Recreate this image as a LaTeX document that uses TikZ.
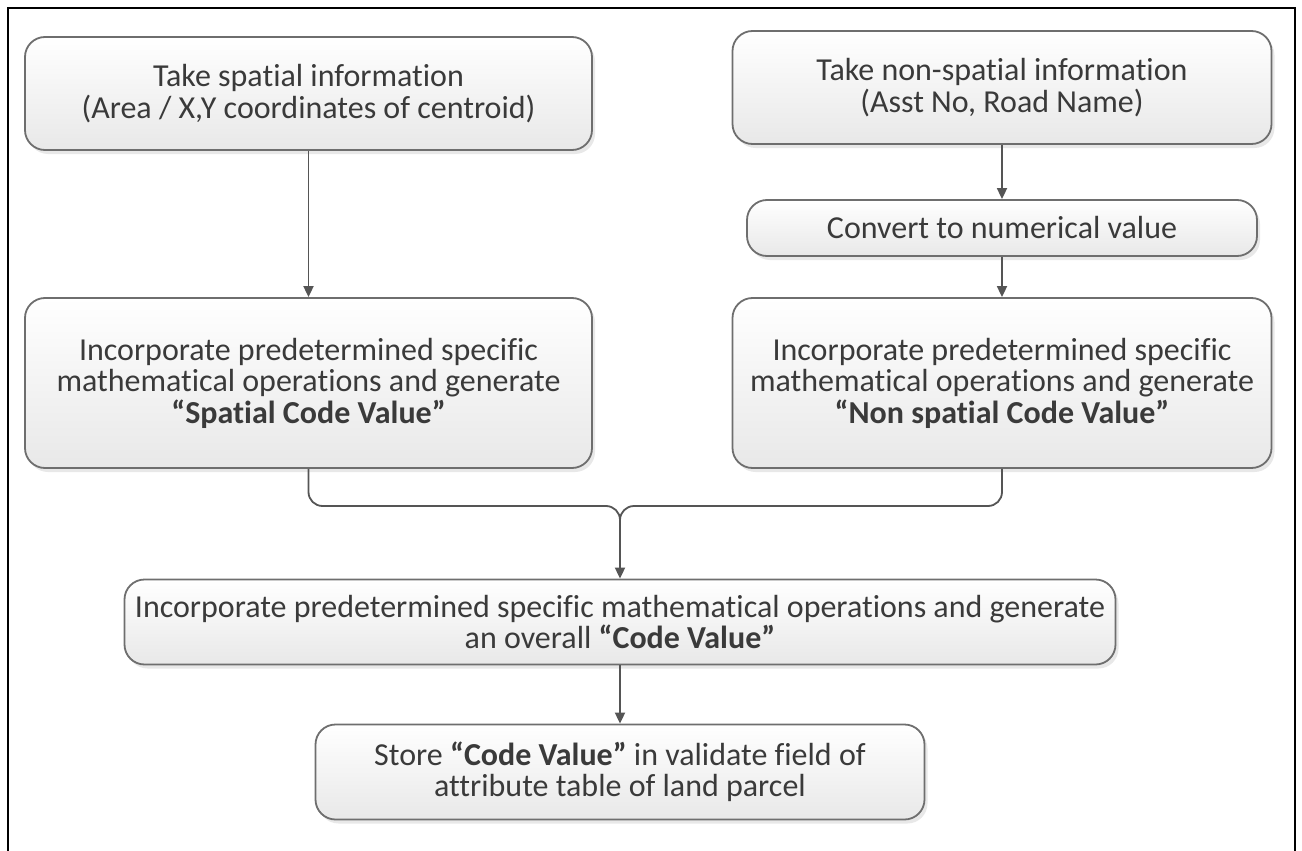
\documentclass[tikz,border=0pt]{standalone}
\usepackage{fontspec}
\setmainfont{Carlito}[Ligatures=NoCommon]
\usepackage{tikz}
\usetikzlibrary{arrows.meta,shadows}
\definecolor{boxline}{HTML}{6E6E6E}
\definecolor{boxtext}{HTML}{3A3A3A}
\definecolor{flowline}{HTML}{555555}
\tikzset{
  >={Triangle[length=11pt,width=10pt]},
  % kastar
  pbox/.style={draw=boxline,line width=1.8pt,rounded corners=20pt,
               top color=white,bottom color=black!9,align=center,text=boxtext,
               font=\fontsize{32}{31.5}\selectfont,inner sep=0pt,
               drop shadow={opacity=0.18,shadow xshift=3pt,shadow yshift=-4pt}},
  % pilar
  flow/.style={draw=flowline,line width=1.8pt},
  arr/.style={->,draw=flowline,line width=1.8pt},
  frame/.style={draw=black,line width=2.5pt},
}
\begin{document}
\begin{tikzpicture}[x=1pt,y=-1pt]
  \useasboundingbox (0,0) rectangle (1302,851);
  \draw[frame] (8,851) -- (8,8) -- (1295,8) -- (1295,851);
  \node[pbox,minimum width=567pt,minimum height=113pt] (spatial) at (308.5,93.5)
    {Take spatial information\\(Area / X,Y coordinates of centroid)};
  \node[pbox,minimum width=539pt,minimum height=113pt] (nonspatial) at (1002,87.5)
    {Take non-spatial information\\(Asst No, Road Name)};
  \node[pbox,minimum width=510pt,minimum height=56pt] (convert) at (1002,228)
    {Convert to numerical value};
  \node[pbox,minimum width=567pt,minimum height=170pt] (spcode) at (308.5,383)
    {Incorporate predetermined specific\\mathematical operations and generate\\{\bfseries “Spatial Code Value”}};
  \node[pbox,minimum width=539pt,minimum height=170pt] (nscode) at (1002,383)
    {Incorporate predetermined specific\\mathematical operations and generate\\{\bfseries “Non spatial Code Value”}};
  \node[pbox,minimum width=991pt,minimum height=85pt] (codeval) at (620,622)
    {Incorporate predetermined specific mathematical operations and generate\\an overall {\bfseries “Code Value”}};
  \node[pbox,minimum width=609pt,minimum height=95pt] (store) at (620,772)
    {Store {\bfseries “Code Value”} in validate field of\\attribute table of land parcel};
  \coordinate (merge) at (620,506);
  \draw[arr] (spatial.south) -- (spcode.north);
  \draw[arr] (nonspatial.south) -- (convert.north);
  \draw[arr] (convert.south) -- (nscode.north);
  \draw[flow,rounded corners=14pt] (nscode.south) |- (merge) -- ++(0,20);
  \draw[arr,rounded corners=14pt] (spcode.south) |- (merge) -- (codeval.north);
  \draw[arr] (codeval.south) -- (store.north);
\end{tikzpicture}
\end{document}
